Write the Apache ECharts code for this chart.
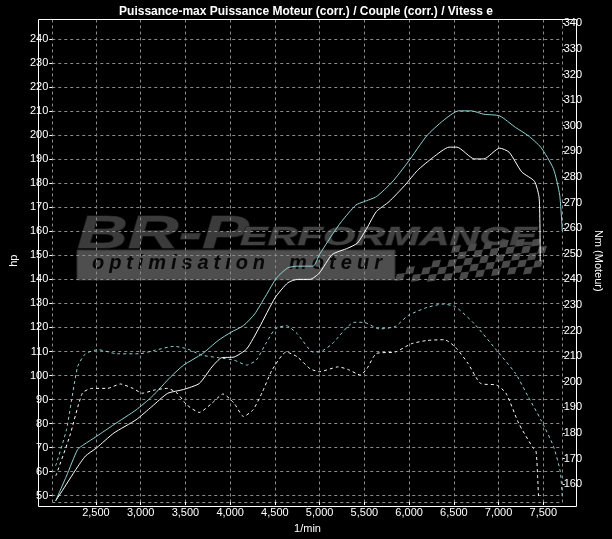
<!DOCTYPE html>
<html>
<head>
<meta charset="utf-8">
<script src="https://cdn.jsdelivr.net/npm/echarts@6/dist/echarts.min.js"></script>
<style>
html,body{margin:0;padding:0;background:#000;}
#chart{width:612px;height:539px;}
</style>
</head>
<body>
<div id="chart"></div>
<script>
// ---- Data ----
const titleText = 'Puissance-max Puissance Moteur (corr.) / Couple (corr.) / Vitess e';
const xName = '1/min';
const yLeftName = 'hp';
const yRightName = 'Nm (Moteur)';

// Cyan solid: max power (hp)
const rpmCyanPower = [2050, 2171, 2295, 2366, 2507, 2701, 2949, 3125, 3337, 3479, 3691, 3867, 4009, 4150, 4274, 4397, 4521, 4645, 4751, 4927, 4998, 5139, 5245, 5404, 5493, 5634, 5811, 5987, 6199, 6376, 6553, 6694, 6835, 7012, 7189, 7330, 7471, 7613, 7683, 7712];
const hpCyanPower = [47.9, 58.2, 69.2, 71.3, 74.7, 79.6, 85.7, 91.2, 99.5, 104.3, 109.1, 114.6, 118.0, 120.8, 125.6, 133.1, 140.7, 144.8, 145.5, 145.5, 150.3, 158.5, 164.1, 170.9, 172.3, 174.4, 180.5, 188.8, 199.8, 205.9, 210.1, 210.1, 208.7, 208.0, 203.2, 199.8, 195.0, 186.0, 175.0, 159.9];

// White solid: engine power (hp)
const rpmWhitePower = [2050, 2136, 2277, 2383, 2507, 2701, 2949, 3125, 3302, 3479, 3655, 3797, 3903, 4044, 4185, 4327, 4503, 4645, 4751, 4892, 4998, 5139, 5316, 5422, 5528, 5634, 5775, 5952, 6093, 6270, 6447, 6535, 6729, 6835, 7012, 7118, 7259, 7401, 7454, 7465];
const hpWhitePower = [47.9, 52.8, 61.0, 66.5, 69.9, 76.1, 81.6, 87.1, 92.6, 94.2, 96.7, 103.6, 107.4, 107.7, 111.1, 120.1, 132.4, 138.6, 140.0, 140.0, 142.7, 150.3, 153.0, 155.1, 161.3, 168.2, 172.3, 179.1, 185.3, 190.8, 195.0, 195.0, 190.1, 190.1, 194.6, 192.9, 184.7, 180.8, 173.7, 147.6];

// Cyan dashed: torque (Nm)
const rpmCyanTorque = [2050, 2171, 2295, 2383, 2525, 2737, 2984, 3161, 3373, 3514, 3691, 3867, 4044, 4185, 4291, 4397, 4503, 4627, 4751, 4927, 4998, 5139, 5387, 5493, 5669, 5846, 5987, 6199, 6376, 6517, 6729, 6977, 7189, 7330, 7471, 7613, 7691, 7712];
const nmCyanTorque = [167.1, 181.3, 205.8, 210.9, 212.5, 210.9, 210.9, 212.3, 213.8, 212.9, 210.3, 209.4, 208.4, 206.5, 208.4, 214.8, 220.6, 221.9, 218.7, 211.6, 211.6, 214.8, 223.2, 223.2, 220.6, 221.6, 225.8, 229.0, 230.3, 229.3, 222.6, 212.3, 203.2, 194.2, 185.2, 174.8, 164.5, 154.2];

// White dashed: torque (Nm)
const rpmWhiteTorque = [2052, 2207, 2348, 2454, 2631, 2772, 2913, 3019, 3161, 3302, 3408, 3514, 3655, 3797, 3920, 4044, 4150, 4256, 4362, 4468, 4627, 4751, 4892, 4998, 5210, 5316, 5457, 5528, 5634, 5846, 6023, 6199, 6394, 6517, 6659, 6800, 6977, 7083, 7224, 7383, 7418, 7436, 7447];
const nmWhiteTorque = [163.2, 178.7, 195.5, 197.4, 197.4, 199.1, 197.4, 195.5, 196.8, 197.4, 195.5, 191.0, 188.0, 191.6, 195.2, 191.6, 186.4, 189.0, 196.1, 204.5, 211.6, 209.7, 205.1, 203.9, 205.8, 204.8, 202.6, 205.1, 211.0, 211.6, 214.8, 216.1, 216.4, 213.5, 207.1, 199.3, 198.7, 195.5, 183.8, 174.2, 172.9, 163.2, 154.2];

// Axis extents (the plot frame does not sit on round values)
const xMin = 2012, xMax = 7717;
const yLeftMin = 47.4, yLeftMax = 248.1;
const yRightMin = 153.0, yRightMax = 341.5;

// ---- Layout / style ----
const FONT = "'Liberation Sans', Arial, sans-serif";
const CYAN = '#8fd3d3';
const WHITE = '#ffffff';
const GRID_L = 38.5, GRID_T = 19.5, GRID_R = 576.5, GRID_B = 506.5;

function zip(a, b) { return a.map((v, i) => [v, b[i]]); }
function thousands(v) { return String(v).replace(/\B(?=(\d{3})+(?!\d))/g, ','); }

const chart = echarts.init(document.getElementById('chart'), null, {renderer: 'canvas'});

// measure helper for logo layout
const mctx = document.createElement('canvas').getContext('2d');
function textWidth(t, font) { mctx.font = font; return mctx.measureText(t).width || (t.length * 20); }

// Logo watermark (decoration)
const logo = [];
const brFont = "italic bold 46px 'Liberation Sans', Arial, sans-serif";
const brW = textWidth('BR-P', brFont);
logo.push({
  type: 'text', x: 77, y: 212, scaleX: 172 / brW, silent: true,
  style: {text: 'BR-P', font: brFont, fill: '#3b3b3b', stroke: '#222', lineWidth: 1}
});
const erFont = "italic bold 25px 'Liberation Sans', Arial, sans-serif";
const erW = textWidth('ERFORMANCE', erFont);
logo.push({
  type: 'text', x: 240, y: 226, scaleX: 297 / erW, silent: true,
  style: {text: 'ERFORMANCE', font: erFont, fill: '#424242', stroke: '#222', lineWidth: 1}
});
logo.push({type: 'rect', silent: true, shape: {x: 77, y: 250, width: 318, height: 30}, style: {fill: '#4e4e4e', stroke: '#2e2e2e', lineWidth: 1}});
const sFont = "italic bold 20px 'Liberation Sans', Arial, sans-serif";
function spaced(word, x0, x1, y) {
  let sum = 0;
  const ws = word.split('').map(ch => { const w = textWidth(ch, sFont); sum += w; return w; });
  const track = (x1 - x0 - sum) / (word.length - 1);
  let x = x0;
  word.split('').forEach((ch, i) => {
    logo.push({type: 'text', silent: true, x: x, y: y, style: {text: ch, font: sFont, fill: '#080808'}});
    x += ws[i] + track;
  });
}
spaced('optimisation', 92, 265, 253);
spaced('moteur', 289, 382, 253);
// checkered flag
for (let c = 0; c < 18; c++) {
  const rows = c < 3 ? 2 : (c < 6 ? 3 : 5);
  for (let r = 0; r < rows; r++) {
    if ((c + r) % 2 !== 0) continue;
    const wave = Math.sin(c / 3) * 2;
    const y0 = 281 - r * 7 + wave - c * 0.3;
    const x0 = 395 + c * 8 + r * 2;
    logo.push({type: 'polygon', silent: true,
      shape: {points: [[x0, y0], [x0 + 8, y0 - 1], [x0 + 10, y0 - 8], [x0 + 2, y0 - 7]]},
      style: {fill: '#4a4a4a'}});
  }
}

const axisLabelStyle = {color: '#fff', fontSize: 11, fontFamily: FONT};

const option = {
  backgroundColor: '#000',
  animation: false,
  title: {
    text: titleText, left: 'center', top: 1,
    textStyle: {color: '#fff', fontSize: 12, fontWeight: 'bold', fontFamily: FONT}
  },
  grid: {left: GRID_L, top: GRID_T, right: 612 - GRID_R, bottom: 539 - GRID_B, show: false, containLabel: false},
  xAxis: {
    type: 'value', min: xMin, max: xMax, splitNumber: 11, z: 1,
    axisLine: {show: false},
    axisTick: {show: true, length: 3, lineStyle: {color: '#fff'}},
    axisLabel: Object.assign({margin: 5, showMinLabel: false, showMaxLabel: false,
      formatter: v => (v % 500 === 0 ? thousands(v) : '')}, axisLabelStyle),
    splitLine: {show: true, lineStyle: {color: '#8a8a8a', type: [3, 3], width: 1}},
    name: xName, nameLocation: 'middle', nameGap: 21,
    nameTextStyle: {color: '#fff', fontSize: 11, fontFamily: FONT}
  },
  yAxis: [
    {
      type: 'value', position: 'left', min: yLeftMin, max: yLeftMax, splitNumber: 20, z: 1,
      axisLine: {show: false},
      axisTick: {show: true, length: 3, lineStyle: {color: '#fff'}},
      axisLabel: Object.assign({margin: 4, showMinLabel: false, showMaxLabel: false,
        formatter: v => (Math.abs(v % 10) < 1e-6 ? String(v) : '')}, axisLabelStyle),
      splitLine: {show: true, lineStyle: {color: '#8a8a8a', type: [3, 3], width: 1}},
      name: yLeftName, nameLocation: 'middle', nameGap: 31, nameRotate: 90,
      nameTextStyle: {color: '#fff', fontSize: 11, fontFamily: FONT}
    },
    {
      type: 'value', position: 'right', min: yRightMin, max: yRightMax, splitNumber: 19, z: 1,
      axisLine: {show: false},
      axisTick: {show: true, length: 2, lineStyle: {color: '#fff'}},
      axisLabel: Object.assign({margin: 1, showMinLabel: false, showMaxLabel: false,
        formatter: v => (Math.abs(v % 10) < 1e-6 ? String(v) : '')}, axisLabelStyle),
      splitLine: {show: false},
      name: yRightName, nameLocation: 'middle', nameGap: 24, nameRotate: -90,
      nameTextStyle: {color: '#fff', fontSize: 11, fontFamily: FONT}
    }
  ],
  graphic: [
    {type: 'group', z: 0, silent: true, children: logo},
    {type: 'rect', z: 10, silent: true,
      shape: {x: GRID_L, y: GRID_T, width: GRID_R - GRID_L, height: GRID_B - GRID_T},
      style: {fill: 'none', stroke: '#fff', lineWidth: 1}}
  ],
  series: [
    {name: 'Puissance-max', type: 'line', yAxisIndex: 0, data: zip(rpmCyanPower, hpCyanPower),
      showSymbol: false, smooth: 0.2, z: 3, lineStyle: {color: CYAN, width: 1}},
    {name: 'Puissance Moteur (corr.)', type: 'line', yAxisIndex: 0, data: zip(rpmWhitePower, hpWhitePower),
      showSymbol: false, smooth: 0.2, z: 4, lineStyle: {color: WHITE, width: 1}},
    {name: 'Couple max', type: 'line', yAxisIndex: 1, data: zip(rpmCyanTorque, nmCyanTorque),
      showSymbol: false, smooth: 0.2, z: 3, lineStyle: {color: CYAN, width: 1, type: [3, 3]}},
    {name: 'Couple (corr.)', type: 'line', yAxisIndex: 1, data: zip(rpmWhiteTorque, nmWhiteTorque),
      showSymbol: false, smooth: 0.2, z: 4, lineStyle: {color: WHITE, width: 1, type: [3, 3]}}
  ]
};
chart.setOption(option);
</script>
</body>
</html>
